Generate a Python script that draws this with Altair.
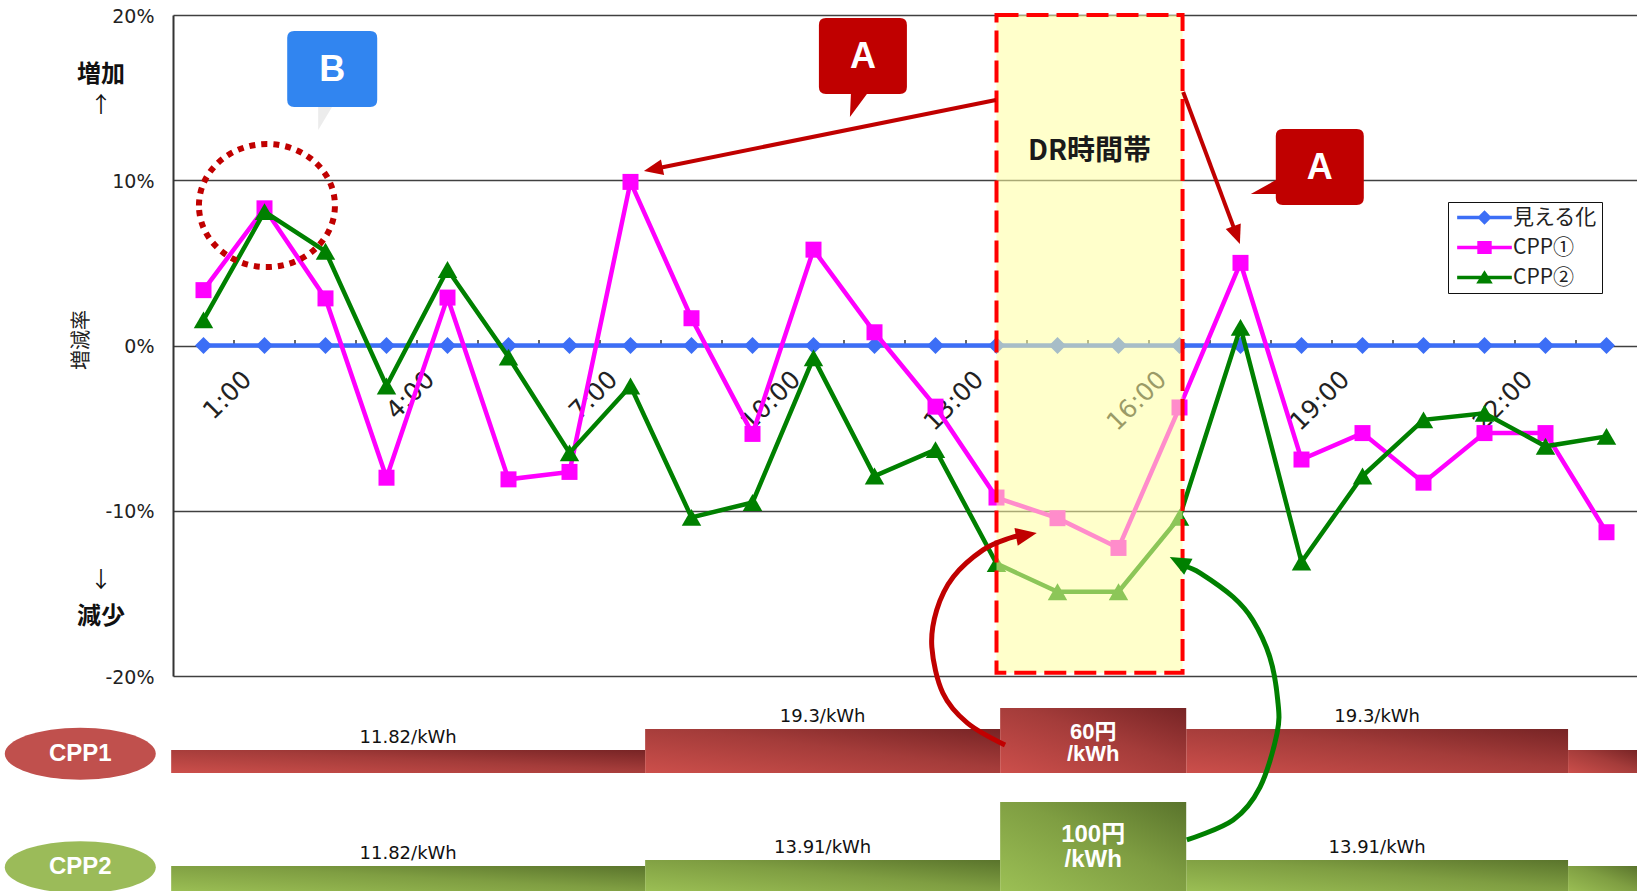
import math
import altair as alt
import pandas as pd

# ---------------- data ----------------
hours = list(range(1, 25))
series_names = ["見える化", "CPP①", "CPP②"]
series_colors = ["#3c6ef6", "#ff00ff", "#008000"]
mieruka = [0.0] * 24
cpp1 = [3.35, 8.3, 2.85, -8.0, 2.9, -8.1, -7.65, 9.9, 1.65, -5.35, 5.8, 0.8,
        -3.7, -9.2, -10.45, -12.25, -3.75, 5.0, -6.9, -5.3, -8.3, -5.3, -5.3, -11.3]
cpp2 = [1.55, 8.1, 5.7, -2.45, 4.6, -0.7, -6.5, -2.45, -10.4, -9.5, -0.75, -7.9,
        -6.3, -13.2, -14.9, -14.9, -10.4, 1.1, -13.1, -7.9, -4.5, -4.1, -6.1, -5.5]
tick_labels = ["1:00", "4:00", "7:00", "10:00", "13:00", "16:00", "19:00", "22:00"]
tick_label_hours = [1, 4, 7, 10, 13, 16, 19, 22]
y_ticks = [-20, -10, 0, 10, 20]
dr_start, dr_end = 14, 17.05

seg_start = [0.47, 8.24, 14.06, 17.11, 23.37]
seg_end = [8.24, 14.06, 17.11, 23.37, 24.5]
cpp1_price = [11.82, 19.3, 60, 19.3, 11.82]
cpp2_price = [11.82, 13.91, 100, 13.91, 11.82]
cpp1_text = ["11.82/kWh", "19.3/kWh", "60円\n/kWh", "19.3/kWh", ""]
cpp2_text = ["11.82/kWh", "13.91/kWh", "100円\n/kWh", "13.91/kWh", ""]

# ---------------- geometry helpers ----------------
W, H = 1464, 661
XS = alt.Scale(domain=[0.5, 24.5], nice=False, zero=False)
YS = alt.Scale(domain=[-20, 20], nice=False, zero=False)


def X(f="h"):
    return alt.X(f"{f}:Q", scale=XS, axis=None)


def Y(f="v"):
    return alt.Y(f"{f}:Q", scale=YS, axis=None)


def to_px(h, v):
    return ((h - 0.5) * W / 24, (20 - v) * H / 40)


def from_px(px, py):
    return (px * 24 / W + 0.5, 20 - py * 40 / H)


def head_angle(h0, v0, h1, v1):
    x0, y0 = to_px(h0, v0)
    x1, y1 = to_px(h1, v1)
    return math.degrees(math.atan2(x1 - x0, -(y1 - y0))) % 360


def shorten(h0, v0, h1, v1, d):
    x0, y0 = to_px(h0, v0)
    x1, y1 = to_px(h1, v1)
    L = math.hypot(x1 - x0, y1 - y0)
    return from_px(x1 - (x1 - x0) / L * d, y1 - (y1 - y0) / L * d)


layers = []

# y axis with grid (on an invisible layer)
axis_df = pd.DataFrame({"h": hours, "v": mieruka})
layers.append(
    alt.Chart(axis_df).mark_line(opacity=0).encode(
        x=X(),
        y=alt.Y("v:Q", scale=YS, axis=alt.Axis(
            values=y_ticks, labelExpr="datum.value + '%'", grid=True,
            gridColor="#404040", gridWidth=1.5, domainColor="#333",
            domainWidth=2, ticks=False, labelFont="DejaVu Sans",
            labelFontSize=19, labelColor="#222", labelPadding=19,
            labelOffset=1, labelFlush=False, labelOverlap=False, title=None)),
    )
)

# category tick marks on the zero line
tick_df = pd.DataFrame({"h": [h + 0.5 for h in hours[:-1]], "v": [0] * 23, "v2": [0.33] * 23})
layers.append(alt.Chart(tick_df).mark_rule(color="#333", strokeWidth=1.5).encode(
    x=X(), y=Y(), y2="v2"))

# x labels (rotated)
lab_df = pd.DataFrame({"h": tick_label_hours, "label": tick_labels})
layers.append(
    alt.Chart(lab_df).transform_calculate(hx="datum.h + 0.58", vy="-1.3")
    .mark_text(angle=315, align="right", baseline="top", font="DejaVu Sans",
               fontSize=25, color="#222")
    .encode(x=X("hx"), y=Y("vy"), text="label:N")
)

# series
for name, vals, color, shape, size in [
    ("見える化", mieruka, series_colors[0], "diamond", 290),
    ("CPP①", cpp1, series_colors[1], "square", 256),
    ("CPP②", cpp2, series_colors[2], "triangle-up", 380),
]:
    df = pd.DataFrame({"h": hours, "v": vals})
    layers.append(alt.Chart(df).mark_line(color=color, strokeWidth=4.5).encode(x=X(), y=Y()))
    layers.append(alt.Chart(df).mark_point(filled=True, color=color, shape=shape, size=size,
                                           opacity=1, strokeWidth=0).encode(x=X(), y=Y()))

# DR period
dr_df = pd.DataFrame({"h": [dr_start], "h2": [dr_end], "v": [20], "v2": [-19.8]})
layers.append(alt.Chart(dr_df).mark_rect(fill="#ffffa0", opacity=0.55).encode(
    x=X(), x2="h2", y=Y(), y2="v2"))
layers.append(alt.Chart(dr_df).mark_rect(filled=False, color="#ff0000", strokeWidth=4,
                                         strokeDash=[22, 8]).encode(
    x=X(), x2="h2", y=Y(), y2="v2"))
layers.append(alt.Chart(pd.DataFrame({"h": [(dr_start + dr_end) / 2], "v": [11.7]}))
              .mark_text(text="DR時間帯", font="Noto Sans CJK JP", fontWeight="bold",
                         fontSize=28, color="#1a1a1a").encode(x=X(), y=Y()))

# dotted ellipse around 2:00
ell = "M-68,0 A68,61.5 0 1,1 68,0 A68,61.5 0 1,1 -68,0 Z"
layers.append(alt.Chart(pd.DataFrame({"h": [2.04], "v": [8.47]}))
              .mark_point(shape=ell, size=4, filled=False, color="#c00000", opacity=1,
                          strokeWidth=6, strokeDash=[6, 6]).encode(x=X(), y=Y()))

# callouts
callout_a1 = ("M-37,-38 H37 Q44,-38 44,-31 V31 Q44,38 37,38 H4 L-13,61 L-12,38 H-37 "
              "Q-44,38 -44,31 V-31 Q-44,-38 -37,-38 Z")
callout_a2 = ("M-37,-38 H37 Q44,-38 44,-31 V31 Q44,38 37,38 H-37 Q-44,38 -44,31 V27 "
              "L-69,27 L-44,13 V-31 Q-44,-38 -37,-38 Z")
box_b = ("M-38,-38 H38 Q45,-38 45,-31 V31 Q45,38 38,38 H-38 Q-45,38 -45,31 V-31 "
         "Q-45,-38 -38,-38 Z")
tail_b = "M-14,36 L1,36 L-14,61 Z"
for h, v, path, col, txt in [
    (11.81, 17.52, callout_a1, "#c00000", "A"),
    (19.3, 10.8, callout_a2, "#c00000", "A"),
    (3.11, 16.73, box_b, "#3185f0", "B"),
]:
    d = pd.DataFrame({"h": [h], "v": [v]})
    if txt == "B":
        layers.append(alt.Chart(d).mark_point(shape=tail_b, size=4, filled=True,
                                              color="#ececec", opacity=1, strokeWidth=0)
                      .encode(x=X(), y=Y()))
    layers.append(alt.Chart(d).mark_point(shape=path, size=4, filled=True, color=col,
                                          opacity=1, strokeWidth=0).encode(x=X(), y=Y()))
    layers.append(alt.Chart(d).mark_text(text=txt, font="Liberation Sans", fontWeight="bold",
                                         fontSize=36, color="white", baseline="middle",
                                         dy=1).encode(x=X(), y=Y()))

# straight arrows
arrow_head = "M0,0 L8,19 L-8,19 Z"
straight = [(13.99, 14.86, 8.22, 10.56), (17.06, 15.34, 17.99, 6.14)]
rows, heads = [], []
for h0, v0, h1, v1 in straight:
    he, ve = shorten(h0, v0, h1, v1, 14)
    rows.append({"h": h0, "v": v0, "h2": he, "v2": ve})
    heads.append({"h": h1, "v": v1, "ang": head_angle(h0, v0, h1, v1)})
layers.append(alt.Chart(pd.DataFrame(rows)).mark_rule(color="#c00000", strokeWidth=4).encode(
    x=X(), y=Y(), x2="h2", y2="v2"))
layers.append(alt.Chart(pd.DataFrame(heads)).mark_point(shape=arrow_head, size=4, filled=True,
                                                        color="#c00000", opacity=1,
                                                        strokeWidth=0)
              .encode(x=X(), y=Y(), angle=alt.Angle("ang:Q", scale=None)))

# tariff bars
grad_red = alt.LinearGradient(gradient="linear", stops=[
    alt.GradientStop(color="#cc4f4b", offset=0), alt.GradientStop(color="#a43c3a", offset=0.55),
    alt.GradientStop(color="#772425", offset=1)], x1=0, y1=1, x2=1, y2=0)
grad_green = alt.LinearGradient(gradient="linear", stops=[
    alt.GradientStop(color="#9cc055", offset=0), alt.GradientStop(color="#7f9e42", offset=0.55),
    alt.GradientStop(color="#5a742c", offset=1)], x1=0, y1=1, x2=1, y2=0)

for prices, texts, grad, dom, rng, pdy, pfs, plh in [
    (cpp1_price, cpp1_text, grad_red, [0, 11.82, 19.3, 60], [758, 735, 714, 693], 24, 22, 22),
    (cpp2_price, cpp2_text, grad_green, [0, 11.82, 13.91, 100], [878, 851, 845, 787], 33, 24, 25),
]:
    tdf = pd.DataFrame({"s": seg_start, "e": seg_end, "p": prices, "t": texts})
    ysc = alt.Scale(domain=dom, range=rng, nice=False, zero=False)
    peak = max(prices)
    layers.append(alt.Chart(tdf).mark_rect(color=grad).encode(
        x=X("s"), x2="e", y=alt.Y("p:Q", scale=ysc, axis=None), y2=alt.datum(0)))
    base = alt.Chart(tdf).transform_calculate(m="(datum.s + datum.e) / 2")
    layers.append(base.transform_filter(f"datum.p < {peak}").mark_text(
        font="DejaVu Sans", fontSize=18, color="#111", baseline="alphabetic", dy=-7)
        .encode(x=X("m"), y=alt.Y("p:Q", scale=ysc, axis=None), text="t:N"))
    layers.append(base.transform_filter(f"datum.p == {peak}").mark_text(
        font="Liberation Sans, Noto Sans CJK JP", fontWeight="bold",
        fontSize=pfs, color="white", baseline="middle",
        lineBreak="\n", lineHeight=plh, dy=pdy)
        .encode(x=X("m"), y=alt.Y("p:Q", scale=ysc, axis=None), text="t:N"))

# plan ellipses
plan_ell = "M-75.5,0 A75.5,26 0 1,1 75.5,0 A75.5,26 0 1,1 -75.5,0 Z"
for lbl, v, col in [("CPP1", -24.7, "#c0504d"), ("CPP2", -31.57, "#9bbb59")]:
    d = pd.DataFrame({"h": [-1.02], "v": [v]})
    layers.append(alt.Chart(d).mark_point(shape=plan_ell, size=4, filled=True, color=col,
                                          opacity=1, strokeWidth=0).encode(x=X(), y=Y()))
    layers.append(alt.Chart(d).mark_text(text=lbl, font="Liberation Sans", fontWeight="bold",
                                         fontSize=24, color="white", baseline="middle")
                  .encode(x=X(), y=Y()))

# curved arrows
red_curve = [(14.14, -24.18), (13.52, -22.84), (13.12, -21.03), (12.94, -18.25),
             (13.02, -16.01), (13.29, -14.01), (13.78, -12.37), (14.22, -11.65),
             (14.42, -11.5)]
red_tip = (14.66, -11.35)
green_curve = [(17.12, -29.92), (17.88, -28.71), (18.32, -26.72), (18.6, -23.45),
               (18.61, -21.45), (18.48, -18.85), (18.2, -16.61), (17.88, -15.22),
               (17.34, -13.77), (17.1, -13.38)]
green_tip = (16.84, -12.8)
curve_head = "M0,0 L9,21 L-9,21 Z"
for pts, tip, col in [(red_curve, red_tip, "#c00000"), (green_curve, green_tip, "#008000")]:
    cdf = pd.DataFrame({"i": list(range(len(pts))), "h": [p[0] for p in pts],
                        "v": [p[1] for p in pts]})
    layers.append(alt.Chart(cdf).mark_line(color=col, strokeWidth=5, interpolate="cardinal")
                  .encode(x=X(), y=Y(), order=alt.Order("i:Q")))
    ang = head_angle(pts[-2][0], pts[-2][1], tip[0], tip[1])
    layers.append(alt.Chart(pd.DataFrame({"h": [tip[0]], "v": [tip[1]], "ang": [ang]}))
                  .mark_point(shape=curve_head, size=4, filled=True, color=col, opacity=1,
                              strokeWidth=0)
                  .encode(x=X(), y=Y(), angle=alt.Angle("ang:Q", scale=None)))

# left side texts
bold_df = pd.DataFrame({"h": [-0.68, -0.68], "v": [16.37, -16.4], "t": ["増加", "減少"]})
layers.append(alt.Chart(bold_df).mark_text(font="Noto Sans CJK JP", fontWeight="bold",
                                           fontSize=24, color="#111", baseline="middle")
              .encode(x=X(), y=Y(), text="t:N"))
arr_df = pd.DataFrame({"h": [-0.68, -0.68], "v": [14.55, -14.2], "t": ["↑", "↓"]})
layers.append(alt.Chart(arr_df).mark_text(font="Noto Sans CJK JP", fontSize=22, color="#111",
                                          baseline="middle")
              .encode(x=X(), y=Y(), text="t:N"))
layers.append(alt.Chart(pd.DataFrame({"h": [-1.0], "v": [0.33]}))
              .mark_text(text="増減率", font="Noto Sans CJK JP", fontSize=20, color="#222",
                         angle=270, baseline="middle")
              .encode(x=X(), y=Y()))

# legend (library legend from a data-less layer)
line_part = "M-3.8,-0.25 H3.8 V0.25 H-3.8 Z "
leg_paths = [line_part + "M0,-1 L1,0 L0,1 L-1,0 Z",
             line_part + "M-1,-0.9 H1 V0.9 H-1 Z",
             line_part + "M0,-1 L1.15,0.85 L-1.15,0.85 Z"]
leg = alt.Legend(title=None, orient="none", legendX=1275, legendY=187, strokeColor="#111",
                 fillColor="#ffffff", padding=5, labelFont="Noto Sans CJK JP",
                 labelFontSize=21, labelColor="#222", symbolSize=207, symbolOffset=21,
                 labelOffset=18, rowPadding=8, symbolStrokeWidth=0, labelLimit=300)
leg_df = pd.DataFrame({"series": series_names, "h": [1, 1, 1], "v": [0, 0, 0]})
layers.append(alt.Chart(leg_df).transform_filter("false")
              .mark_point(filled=True, opacity=1, strokeWidth=0)
              .encode(x=X(), y=Y(),
                      color=alt.Color("series:N", scale=alt.Scale(domain=series_names,
                                                                  range=series_colors),
                                      legend=leg),
                      shape=alt.Shape("series:N", scale=alt.Scale(domain=series_names,
                                                                  range=leg_paths),
                                      legend=leg)))

chart = (alt.layer(*layers)
         .resolve_scale(y="independent")
         .properties(width=W, height=H, autosize=alt.AutoSizeParams(type="none"),
                     padding={"left": 173, "top": 15, "right": 0, "bottom": 215},
                     background="white")
         .configure_view(stroke=None))

chart.save("out.html", embed_options={"renderer": "svg", "actions": False})
